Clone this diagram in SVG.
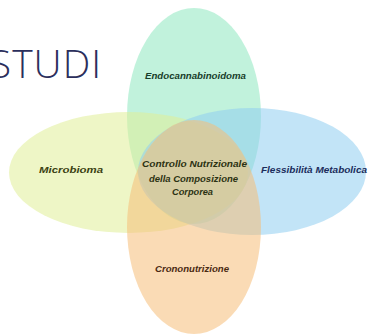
<svg xmlns="http://www.w3.org/2000/svg" width="368" height="336" viewBox="0 0 368 336">
<style>
.e{opacity:0.55}
.t{font-family:"Liberation Sans",Arial,sans-serif;font-weight:bold;font-style:italic;font-size:8.5px;text-anchor:middle}
</style>
<rect width="368" height="336" fill="#ffffff"/>
<text x="102" y="78" font-family="'Open Sans','Liberation Sans',sans-serif" font-weight="300" font-size="39" fill="#2b2e5c" text-anchor="end" letter-spacing="1">STUDI</text>
<g id="endocannabinoidoma"><ellipse class="e" cx="194" cy="116" rx="67" ry="108" fill="#8ee8c0"/></g>
<g id="microbioma"><ellipse class="e" cx="128.5" cy="172.5" rx="119.5" ry="60.5" fill="#e0ee98"/></g>
<g id="flessibilita"><ellipse class="e" cx="252" cy="171.5" rx="114" ry="63.5" fill="#90cdf0"/></g>
<g id="crononutrizione"><ellipse class="e" cx="194" cy="227" rx="67" ry="107" fill="#f5bd78"/></g>
<g id="labels">
<text class="t" x="195.5" y="79" fill="#173d2a" textLength="101" lengthAdjust="spacingAndGlyphs">Endocannabinoidoma</text>
<text class="t" x="71" y="173" fill="#3b4212" textLength="64" lengthAdjust="spacingAndGlyphs">Microbioma</text>
<text class="t" x="314" y="173" fill="#1b2d5c" textLength="106" lengthAdjust="spacingAndGlyphs">Flessibilità Metabolica</text>
<text class="t" x="194.5" y="167" fill="#2c3212" textLength="105" lengthAdjust="spacingAndGlyphs">Controllo Nutrizionale</text>
<text class="t" x="193.5" y="182" fill="#2c3212" textLength="89" lengthAdjust="spacingAndGlyphs">della Composizione</text>
<text class="t" x="192.5" y="195" fill="#2c3212" textLength="41" lengthAdjust="spacingAndGlyphs">Corporea</text>
<text class="t" x="192" y="272" fill="#4a2a12" textLength="74" lengthAdjust="spacingAndGlyphs">Crononutrizione</text>
</g>
<g id="connectors"/>
</svg>
